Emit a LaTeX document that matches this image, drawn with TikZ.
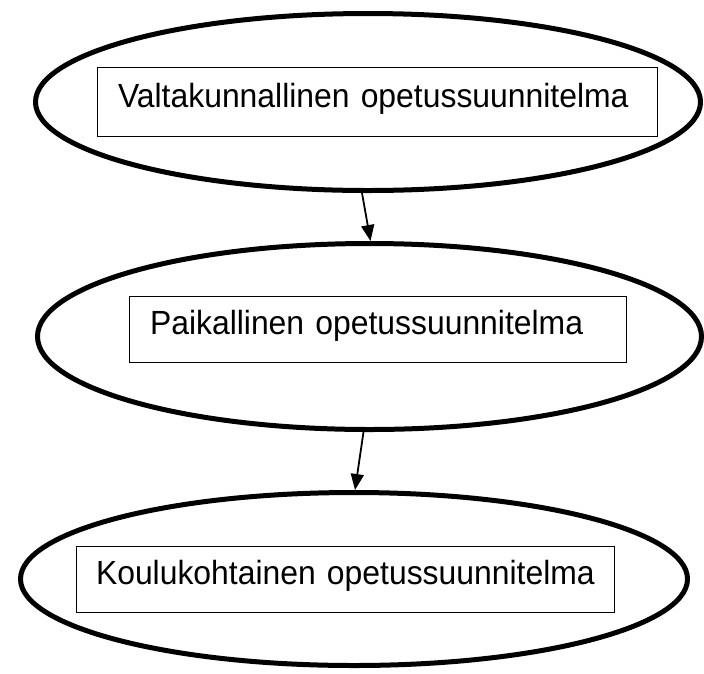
\documentclass[tikz,border=0pt]{standalone}
\usepackage{fontspec}
\setmainfont[FakeStretch=0.952]{Liberation Sans}
\usepackage{tikz}
\usetikzlibrary{shapes}
\usetikzlibrary{arrows.meta}

\tikzset{
  plan/.style={draw, ellipse, line width=5pt},
  box/.style={draw, rectangle, line width=0.9pt, inner xsep=20pt, align=left,
    text depth=13pt, font=\fontsize{33.5}{40}\selectfont},
  flow/.style={-{Triangle[length=16pt,width=13pt]}, line width=1.8pt}
}

\begin{document}
\begin{tikzpicture}[x=1pt,y=-1pt]
\useasboundingbox (0,0) rectangle (704,673);
% ellipses
\node[plan, minimum width=665pt, minimum height=177pt] (valt) at (368,102) {};
\node[plan, minimum width=664pt, minimum height=186pt] (paik) at (369.5,336.5) {};
\node[plan, minimum width=667pt, minimum height=173pt] (koul) at (354,579) {};
% boxes with names
\node[box, text width=518pt, minimum height=69pt, inner xsep=21pt] (valtbox) at (377,101.5) {\mbox{Valtakunnallinen opetussuunnitelma}};
\node[box, text width=455pt, minimum height=66pt, inner xsep=21pt] (paikbox) at (377.5,329) {\mbox{Paikallinen opetussuunnitelma}};
\node[box, text width=498pt, minimum height=66pt] (koulbox) at (345,579) {\mbox{Koulukohtainen opetussuunnitelma}};
% arrows
\draw[flow] ([xshift=-6pt]valt.south) -- ([xshift=1pt]paik.north);
\draw[flow] ([xshift=-6pt]paik.south) -- ([xshift=1pt]koul.north);
\end{tikzpicture}
\end{document}
